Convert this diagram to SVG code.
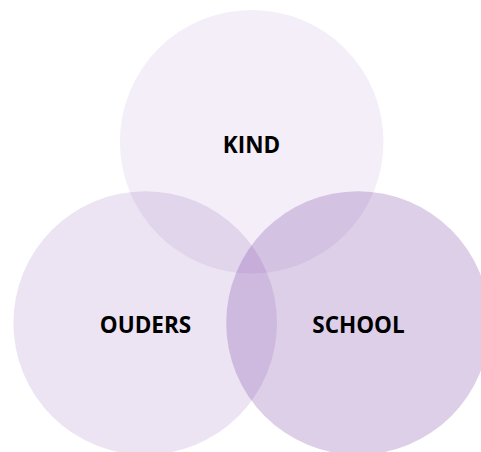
<svg xmlns="http://www.w3.org/2000/svg" width="481" height="452" viewBox="0 0 481 452">
<style>
.c{fill:#7030A0}
.t{font-family:"Open Sans","Liberation Sans",sans-serif;font-weight:bold;font-size:22.5px;fill:#000;text-anchor:middle}
</style>
<rect width="481" height="452" fill="#fff"/>
<g id="kind">
<circle class="c" cx="251.7" cy="141.7" r="131.8" fill-opacity="0.082"/>
<text class="t" x="251.5" y="153">KIND</text>
</g>
<g id="ouders">
<circle class="c" cx="145.2" cy="323" r="131.8" fill-opacity="0.13"/>
<text class="t" x="145.5" y="333">OUDERS</text>
</g>
<g id="school">
<circle class="c" cx="358" cy="323" r="131.8" fill-opacity="0.23"/>
</g>
<g id="school-label">
<text class="t" x="358.5" y="333">SCHOOL</text>
</g>
<g id="connectors"/>
</svg>
